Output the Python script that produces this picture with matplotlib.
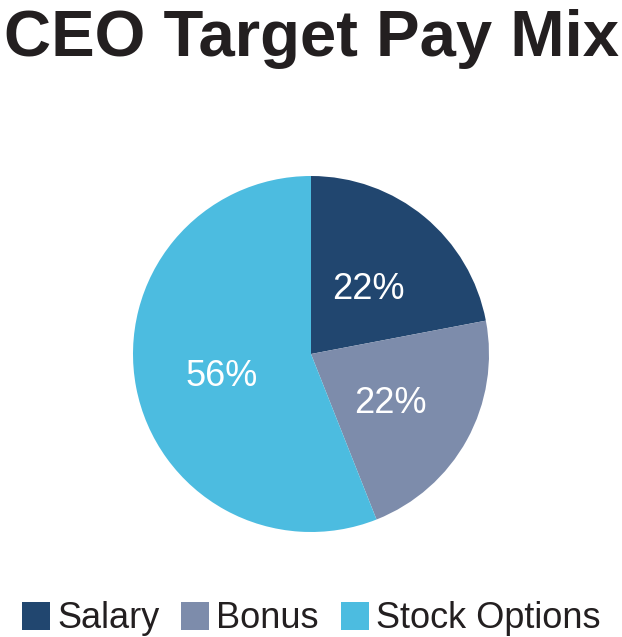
import matplotlib
matplotlib.use('Agg')
import matplotlib.pyplot as plt

labels = ['Salary', 'Bonus', 'Stock Options']
shares = [22, 22, 56]
colors = ['#21466F', '#7D8CAB', '#4CBCE0']

plt.rcParams['font.family'] = ['Liberation Sans', 'DejaVu Sans']

fig = plt.figure(figsize=(6.22, 6.37), dpi=100)

# pie centred at (311, 354) px, radius 178 px
W, H = 622, 637
cx, cy, r = 311, 354, 178
ax = fig.add_axes([(cx - r) / W, (H - cy - r) / H, 2 * r / W, 2 * r / H])

wedges, texts, autotexts = ax.pie(
    shares, colors=colors, startangle=90, counterclock=False,
    autopct='%d%%', pctdistance=0.51, radius=1,
    textprops=dict(color='white', fontsize=26),
)
# nudge the percentages down a little, as in the original
for t in autotexts:
    x, y = t.get_position()
    t.set_position((x, y - 0.03))
ax.set_xlim(-1, 1)
ax.set_ylim(-1, 1)
ax.set_aspect('equal')

fig.text(0.5, 1 - 56 / H, 'CEO Target Pay Mix', ha='center', va='baseline',
         fontsize=47, fontweight='bold', color='#231F20')

leg = fig.legend(wedges, labels, loc='center', bbox_to_anchor=(0.5, 1 - 619 / H),
                 ncol=3, frameon=False, fontsize=26, handlelength=0.78,
                 handleheight=0.78, handletextpad=0.2, columnspacing=0.6,
                 borderaxespad=0, borderpad=0)
for t in leg.get_texts():
    t.set_color('#231F20')

fig.savefig('out.png', dpi=100)
